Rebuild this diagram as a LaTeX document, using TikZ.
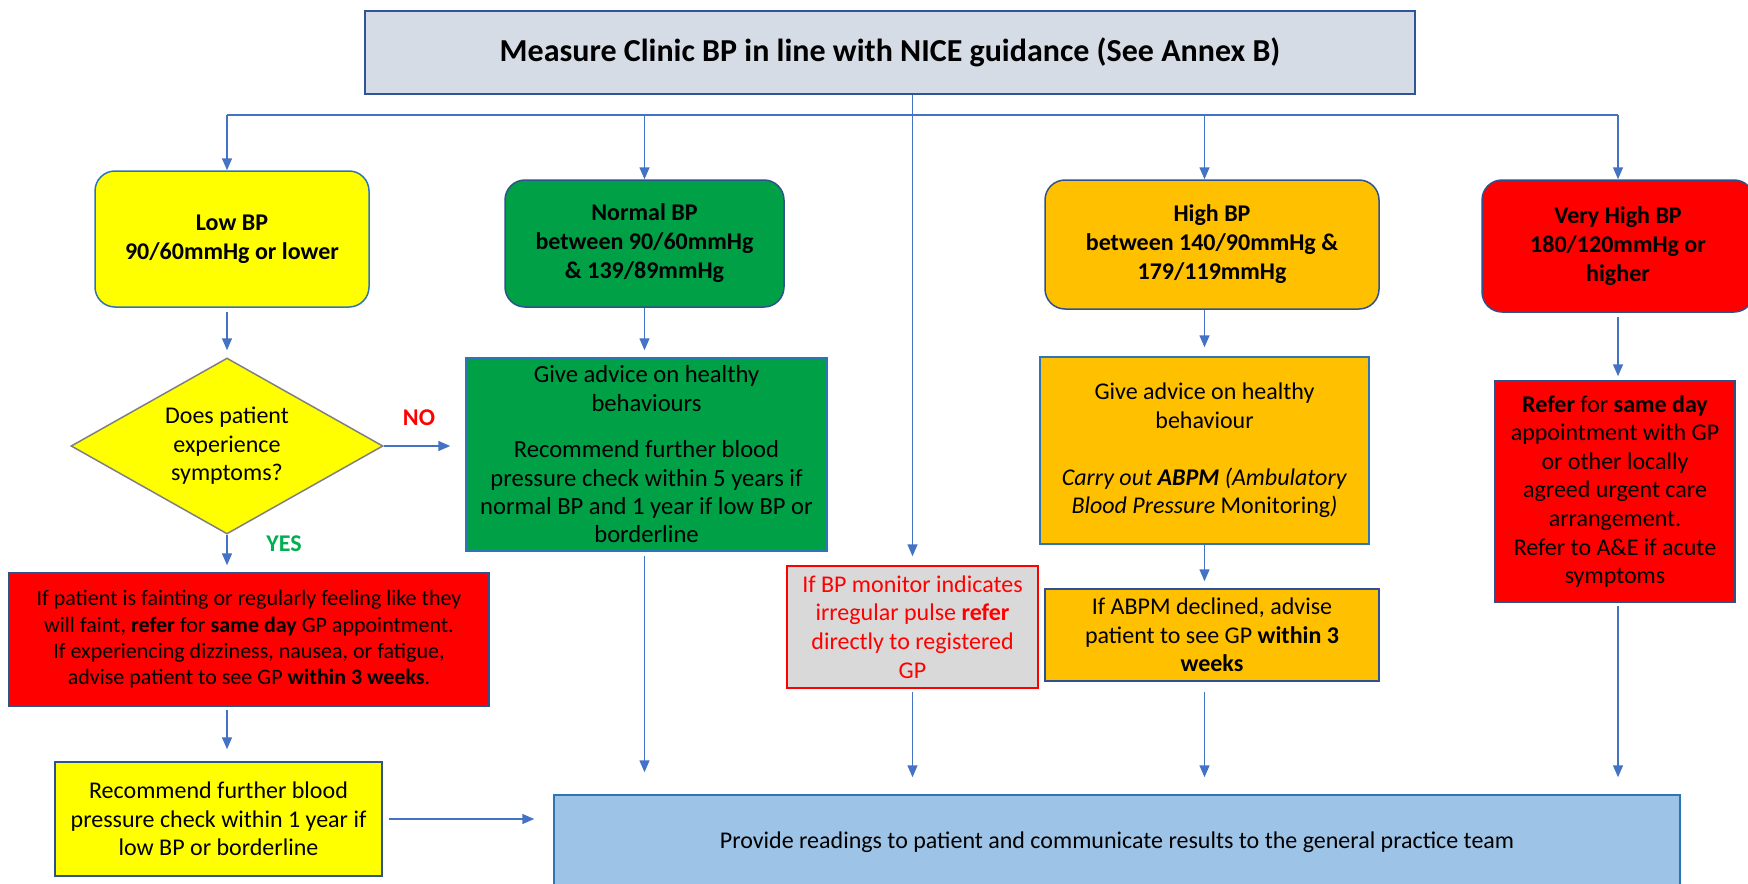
\documentclass[tikz,border=0pt]{standalone}
\usepackage{fontspec}
\setmainfont{Carlito}
\usetikzlibrary{shapes.geometric,arrows.meta}
\definecolor{linkblue}{HTML}{4472C4}
\definecolor{titlegrey}{HTML}{D6DCE5}
\definecolor{titleedge}{HTML}{2F5597}
\definecolor{darkedge}{HTML}{2F528F}
\definecolor{boxedge}{HTML}{2E75B6}
\definecolor{lowyellow}{HTML}{FFFF00}
\definecolor{normgreen}{HTML}{00A046}
\definecolor{highorange}{HTML}{FFC000}
\definecolor{vhred}{HTML}{FF0000}
\definecolor{pulsegrey}{HTML}{D9D9D9}
\definecolor{readblue}{HTML}{9DC3E6}
\definecolor{yesgreen}{HTML}{00B050}

\begin{document}
\begin{tikzpicture}[x=0.5pt,y=-0.5pt,
   box/.style={draw=darkedge,line width=0.75pt,inner sep=0pt,align=center,
     font=\fontsize{12}{14.3}\selectfont},
   head/.style={box,rounded corners=10pt,font=\fontsize{12}{14.5}\selectfont\bfseries},
   arr/.style={draw=linkblue,line width=0.75pt,-{Triangle[width=5pt,length=6pt]}}]
   \useasboundingbox (0,0) rectangle (1748,883);
   \node[box,fill=titlegrey,draw=titleedge,line width=1pt,minimum width=525pt,minimum height=41.5pt,
     font=\fontsize{16}{19}\selectfont\bfseries] (top) at (890,52.5)
     {Measure Clinic BP in line with NICE guidance (See Annex B)};
   \node[head,fill=lowyellow,draw=boxedge,minimum width=137pt,minimum height=68pt] (low) at (232,239)
     {Low BP\\90/60mmHg or lower};
   \node[head,fill=normgreen,minimum width=139.5pt,minimum height=63.5pt] (normal) at (644.5,243.5)
     {Normal BP\\between 90/60mmHg\\\& 139/89mmHg};
   \node[head,fill=highorange,minimum width=167pt,minimum height=64.5pt] (high) at (1212,244.5)
     {High BP\\between 140/90mmHg \&\\179/119mmHg};
   \node[head,fill=vhred,minimum width=136pt,minimum height=66pt] (vhigh) at (1618,246)
     {Very High BP\\180/120mmHg or\\higher};
   \node[box,diamond,aspect=1.77,fill=lowyellow,draw=gray,minimum width=156pt,minimum height=88pt] (dia) at (227,446)
     {Does patient\\experience\\symptoms?};
   \node[box,fill=normgreen,draw=boxedge,minimum width=180.5pt,minimum height=96.5pt,
     font=\fontsize{12.3}{14.2}\selectfont] (nadv) at (646.5,454.5)
     {Give advice on healthy\\behaviours\\[9pt]Recommend further blood\\pressure check within 5 years if\\normal BP and 1 year if low BP or\\borderline};
   \node[box,fill=vhred,minimum width=240pt,minimum height=66.5pt,font=\fontsize{11}{13.2}\selectfont] (sym) at (249,639.5)
     {If patient is fainting or regularly feeling like they\\will faint, \textbf{refer} for \textbf{same day} GP appointment.\\If experiencing dizziness, nausea, or fatigue,\\advise patient to see GP \textbf{within 3 weeks}.};
   \node[box,fill=lowyellow,minimum width=163.5pt,minimum height=57pt] (yrec) at (218.5,819)
     {Recommend further blood\\pressure check within 1 year if\\low BP or borderline};
   \node[box,fill=pulsegrey,draw=vhred,text=vhred,minimum width=125.5pt,minimum height=61pt] (irr) at (912.5,627)
     {If BP monitor indicates\\irregular pulse \textbf{refer}\\directly to registered\\GP};
   \node[box,fill=highorange,draw=boxedge,minimum width=164.5pt,minimum height=93.5pt] (abpm) at (1204.5,450.5)
     {Give advice on healthy\\behaviour\\[14pt]\textit{Carry out \textbf{ABPM} (Ambulatory}\\\textit{Blood Pressure} Monitoring\textit{)}};
   \node[box,fill=highorange,minimum width=167pt,minimum height=46pt] (decl) at (1212,635)
     {If ABPM declined, advise\\patient to see GP \textbf{within 3}\\\textbf{weeks}};
   \node[box,fill=vhred,minimum width=120pt,minimum height=110.5pt] (refer) at (1615,491.5)
     {\textbf{Refer} for \textbf{same day}\\appointment with GP\\or other locally\\agreed urgent care\\arrangement.\\Refer to A\&E if acute\\symptoms};
   \node[box,fill=readblue,draw=boxedge,minimum width=563pt,minimum height=47pt] (read) at (1117,842)
     {Provide readings to patient and communicate results to the general practice team};
   \node[text=vhred,font=\fontsize{12}{14}\selectfont\bfseries] (no) at (419,418) {NO};
   \node[text=yesgreen,font=\fontsize{12}{14}\selectfont\bfseries] (yes) at (284,544) {YES};
   \coordinate (busL) at (227,115);
   \coordinate (busR) at (1618,115);
   \draw[linkblue,line width=0.75pt] (busL) -- (busR);
   \draw[arr] (busL) -- (busL |- low.north);
   \draw[arr] (normal.north |- busL) -- (normal.north);
   \draw[arr] (abpm.north |- busL) -- (abpm.north |- high.north);
   \draw[arr] (busR) -- (vhigh.north);
   \draw[arr,shorten >=4.5pt] (irr.north |- top.south) -- (irr.north);
   \draw[arr,shorten <=2pt,shorten >=3.5pt] (dia.north |- low.south) -- (dia.north);
   \draw[arr,shorten >=3.5pt] (normal.south) -- (normal.south |- nadv.north);
   \draw[arr,shorten >=7.5pt] (dia.east) -- (dia.east -| nadv.west);
   \draw[arr,shorten >=3.5pt] (dia.south) -- (dia.south |- sym.north);
   \draw[arr,shorten <=1.5pt,shorten >=6pt] (dia.south |- sym.south) -- (dia.south |- yrec.north);
   \draw[arr,shorten <=3pt,shorten >=9.5pt] (yrec.east) -- (yrec.east -| read.west);
   \draw[arr,shorten <=2pt,shorten >=11pt] (normal.south |- nadv.south) -- (normal.south |- read.north);
   \draw[arr,shorten <=1.5pt,shorten >=8.5pt] (irr.south) -- (irr.south |- read.north);
   \draw[arr,shorten >=4.5pt] (abpm.south |- high.south) -- (abpm.north);
   \draw[arr,shorten >=3.5pt] (abpm.south) -- (abpm.south |- decl.north);
   \draw[arr,shorten <=5pt,shorten >=8.5pt] (abpm.south |- decl.south) -- (abpm.south |- read.north);
   \draw[arr,shorten <=2pt,shorten >=2pt] (vhigh.south) -- (vhigh.south |- refer.north);
   \draw[arr,shorten <=1.5pt,shorten >=8.5pt] (refer.south -| vhigh.south) -- (vhigh.south |- read.north);
\end{tikzpicture}
\end{document}
